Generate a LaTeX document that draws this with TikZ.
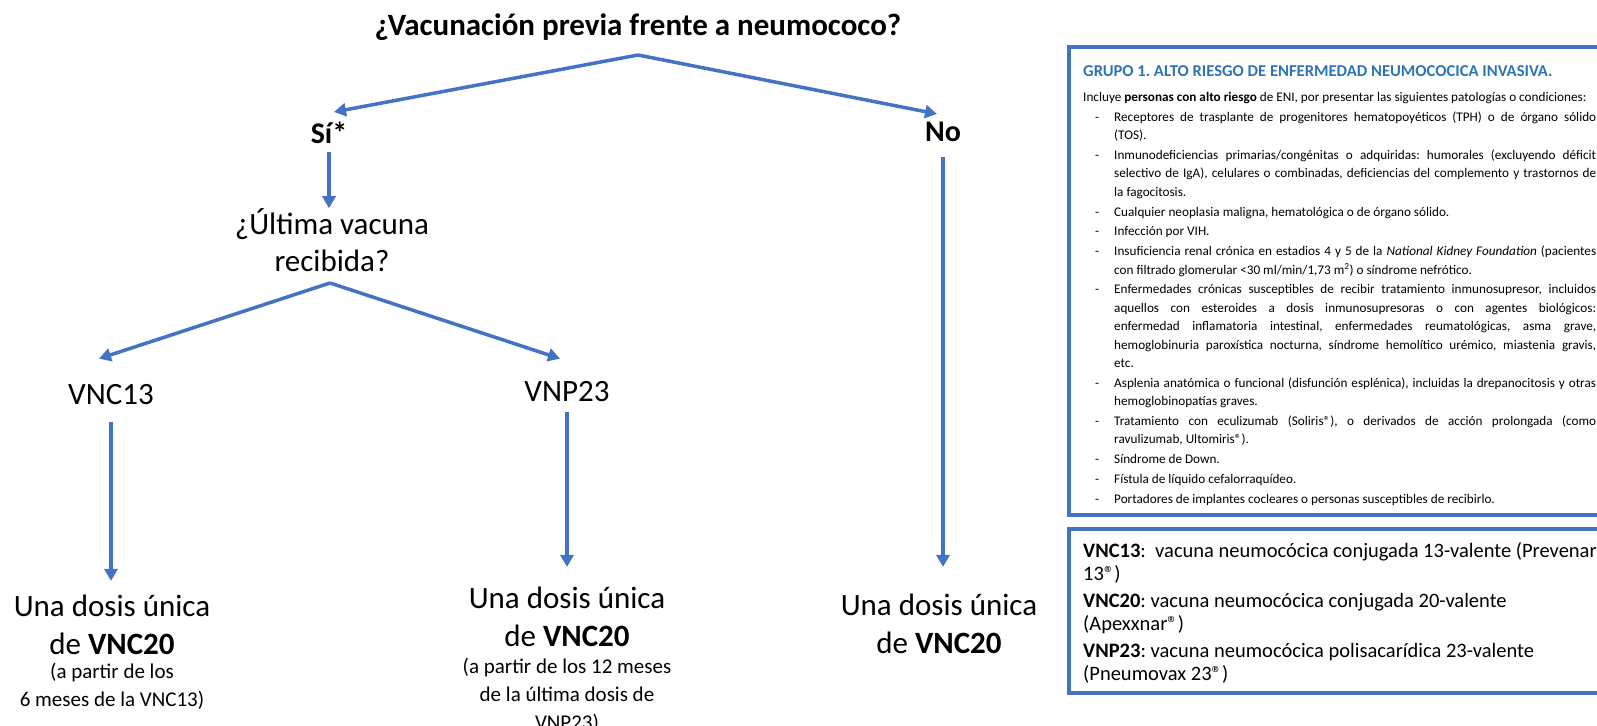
\documentclass[tikz,border=0pt]{standalone}
\usepackage{fontspec}
\setmainfont{Carlito}
\usepackage{tikz}
\usetikzlibrary{arrows.meta,positioning}
\definecolor{azul}{RGB}{68,114,196}
\definecolor{azultit}{RGB}{46,116,181}
\frenchspacing
% guion de la lista del grupo 1
\newcommand{\guion}[1]{\par\leftskip=31pt\noindent\llap{-\hspace{15pt}}#1\par}

\begin{document}
\begin{tikzpicture}[x=1pt,y=-1pt,
    flecha/.style={draw=azul, line width=3.5pt, -{Triangle[length=12pt,width=13pt]}},
    titulo/.style={font=\fontsize{31}{37}\selectfont\bfseries, inner sep=0},
    resp/.style={font=\fontsize{30}{36}\selectfont\bfseries, inner sep=0},
    grande/.style={font=\fontsize{31}{38}\selectfont, inner sep=0, align=center},
    nota/.style={font=\fontsize{21}{28}\selectfont, inner sep=0, align=center},
    caja/.style={draw=azul, line width=4pt}]
    \useasboundingbox (0,0) rectangle (1597,725);
    \clip (0,0) rectangle (1597,725);

    % arbol
    \node[titulo] (previa) at (638,27) {¿Vacunación previa frente a neumococo?};
    \coordinate (v1) at (638,55);
    \node[resp] (si) at (329,133) {Sí*};
    \node[resp] (no) at (943,132) {No};
    \draw[flecha] (v1) -- ([xshift=5pt,yshift=10pt]si.north);
    \draw[flecha] (v1) -- ([xshift=-6pt,yshift=8pt]no.north);

    \node[grande, font=\fontsize{31}{37}\selectfont] (ultima) at (332,240) {¿Última vacuna\\recibida?};
    \draw[flecha, shorten <=8pt] (si.south) -- (si.south |- ultima.north);

    \coordinate (v2) at (330,283);
    \node[grande] (vnc) at (111,395) {VNC13};
    \node[grande] (vnp) at (567,392) {VNP23};
    \draw[flecha] (v2) -- ([xshift=-12pt,yshift=26pt]vnc.north);
    \draw[flecha] (v2) -- ([xshift=-7pt,yshift=23pt]vnp.north);

    \node[grande] (dosisA) at (112,625) {Una dosis única\\de \textbf{VNC20}};
    \node[nota, below=8pt of dosisA] (notaA) {(a partir de los\\6 meses de la VNC13)};
    \node[grande] (dosisB) at (567,617) {Una dosis única\\de \textbf{VNC20}};
    \node[nota, below=11pt of dosisB] (notaB) {(a partir de los 12 meses\\de la última dosis de\\VNP23)};
    \node[grande] (dosisC) at (939,624) {Una dosis única\\de \textbf{VNC20}};

    \draw[flecha, shorten <=17pt, shorten >=14pt] (vnc.south) -- (vnc.south |- dosisA.north);
    \draw[flecha, shorten <=10pt, shorten >=20pt] (vnp.south) -- (vnp.south |- dosisB.north);
    \draw[flecha, shorten <=15pt, shorten >=27pt] (no.south) -- (no.south |- dosisC.north);

    % cuadros de la derecha
    \draw[caja] (1069,47) rectangle (1640,515);
    \draw[caja] (1069,529) rectangle (1640,693);

    \node[anchor=base west, inner sep=0, text=azultit,
          font=\fontsize{16.6}{20}\selectfont\bfseries] (grupo) at (1083,77)
          {GRUPO 1. ALTO RIESGO DE ENFERMEDAD NEUMOCOCICA INVASIVA.};
    \node[anchor=north west, inner sep=0, text width=513pt, align=justify,
          font=\fontsize{13.2}{18.4}\selectfont] (lista) at (1083,92) {%
      \setlength{\parskip}{1.4pt}\hyphenpenalty=10000%
      Incluye \textbf{personas con alto riesgo} de ENI, por presentar las siguientes patologías o condiciones:
      \guion{Receptores de trasplante de progenitores hematopoyéticos (TPH) o de órgano sólido\linebreak (TOS).}
      \guion{Inmunodeficiencias primarias/congénitas o adquiridas: humorales (excluyendo déficit\linebreak selectivo de IgA), celulares o combinadas, deficiencias del complemento y trastornos de\linebreak la fagocitosis.}
      \guion{Cualquier neoplasia maligna, hematológica o de órgano sólido.}
      \guion{Infección por VIH.}
      \guion{Insuficiencia renal crónica en estadios 4 y 5 de la \textit{National Kidney Foundation} (pacientes\linebreak con filtrado glomerular <30 ml/min/1,73 m\textsuperscript{2}) o síndrome nefrótico.}
      \guion{Enfermedades crónicas susceptibles de recibir tratamiento inmunosupresor, incluidos\linebreak aquellos con esteroides a dosis inmunosupresoras o con agentes biológicos:\linebreak enfermedad inflamatoria intestinal, enfermedades reumatológicas, asma grave,\linebreak hemoglobinuria paroxística nocturna, síndrome hemolítico urémico, miastenia gravis,\linebreak etc.}
      \guion{Asplenia anatómica o funcional (disfunción esplénica), incluidas la drepanocitosis y otras\linebreak hemoglobinopatías graves.}
      \guion{Tratamiento con eculizumab (Soliris®), o derivados de acción prolongada (como\linebreak ravulizumab, Ultomiris®).}
      \guion{Síndrome de Down.}
      \guion{Fístula de líquido cefalorraquídeo.}
      \guion{Portadores de implantes cocleares o personas susceptibles de recibirlo.}};

    \node[anchor=north west, inner sep=0, align=left,
          font=\fontsize{20.5}{23.5}\selectfont] (siglas) at (1083,542) {%
      \textbf{VNC13}:~ vacuna neumocócica conjugada 13-valente (Prevenar\\
      13®)\\[3pt]
      \textbf{VNC20}: vacuna neumocócica conjugada 20-valente\\
      (Apexxnar®)\\[3pt]
      \textbf{VNP23}: vacuna neumocócica polisacarídica 23-valente\\
      (Pneumovax 23®)};
\end{tikzpicture}
\end{document}
